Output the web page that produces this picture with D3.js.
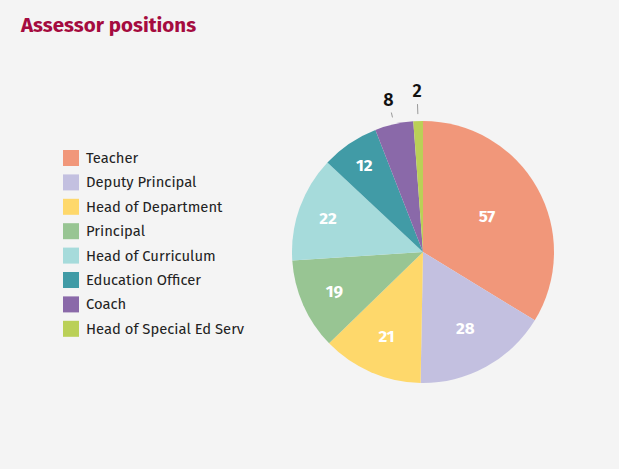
<!DOCTYPE html>
<html>
<head>
<meta charset="utf-8">
<script src="https://cdn.jsdelivr.net/npm/d3@7"></script>
<style>
  html, body { margin: 0; padding: 0; background: #f4f4f4; }
  svg { display: block; font-family: "Fira Sans", "Open Sans", "Noto Sans", sans-serif; }
</style>
</head>
<body>
<svg id="chart" width="619" height="469"></svg>
<script>
// Chart data
const categories = ['Teacher', 'Deputy Principal', 'Head of Department', 'Principal',
  'Head of Curriculum', 'Education Officer', 'Coach', 'Head of Special Ed Serv'];
const values = [57, 28, 21, 19, 22, 12, 8, 2];
const colors = ['#f1977a', '#c3c0e0', '#fed86b', '#98c593', '#a6dbdb', '#419ba6', '#8a69a9', '#bad057'];

const W = 619, H = 469;
const cx = 423, cy = 252, R = 131;

const svg = d3.select('#chart');
svg.append('rect').attr('width', W).attr('height', H).attr('fill', '#f4f4f4');

// Title
svg.append('text')
  .attr('x', 21).attr('y', 32)
  .attr('fill', '#a50b3f')
  .attr('font-size', 20.5)
  .attr('font-weight', 'bold')
  .text('Assessor positions');

// Pie
const pie = d3.pie().sort(null).value(d => d);
const arcs = pie(values);
const arc = d3.arc().innerRadius(0).outerRadius(R);

const g = svg.append('g').attr('transform', `translate(${cx},${cy})`);

g.selectAll('path.slice')
  .data(arcs)
  .enter()
  .append('path')
  .attr('class', 'slice')
  .attr('d', arc)
  .attr('fill', (d, i) => colors[i]);

// label distance (fraction of radius) — small slices go outside
const labelR = [0.56, 0.67, 0.70, 0.74, 0.77, 0.80];
arcs.forEach((d, i) => {
  const mid = (d.startAngle + d.endAngle) / 2;
  const sx = Math.sin(mid), sy = -Math.cos(mid);
  if (i < labelR.length) {
    const r = labelR[i] * R;
    g.append('text')
      .attr('x', sx * r).attr('y', sy * r)
      .attr('text-anchor', 'middle')
      .attr('dominant-baseline', 'central')
      .attr('fill', '#ffffff')
      .attr('font-size', 17)
      .attr('font-weight', 'bold')
      .text(values[i]);
  } else {
    const r1 = R + 7, r2 = R + (i === 6 ? 12 : 17);
    g.append('line')
      .attr('x1', sx * r1).attr('y1', sy * r1)
      .attr('x2', sx * r2).attr('y2', sy * r2)
      .attr('stroke', '#999')
      .attr('stroke-width', 1);
    const rt = R + (i === 6 ? 25 : 30);
    g.append('text')
      .attr('x', sx * rt).attr('y', sy * rt)
      .attr('text-anchor', 'middle')
      .attr('dominant-baseline', 'central')
      .attr('fill', '#111')
      .attr('font-size', 18)
      .attr('font-weight', 600)
      .text(values[i]);
  }
});

// Legend
const legend = svg.append('g').attr('transform', 'translate(63,150)');
const rowH = 24.4;
const items = legend.selectAll('g.item')
  .data(categories)
  .enter()
  .append('g')
  .attr('class', 'item')
  .attr('transform', (d, i) => `translate(0,${i * rowH})`);

items.append('rect')
  .attr('width', 16).attr('height', 16)
  .attr('fill', (d, i) => colors[i]);

items.append('text')
  .attr('x', 23).attr('y', 8)
  .attr('dominant-baseline', 'central')
  .attr('fill', '#222')
  .attr('font-size', 14.8)
  .text(d => d);
</script>
</body>
</html>
